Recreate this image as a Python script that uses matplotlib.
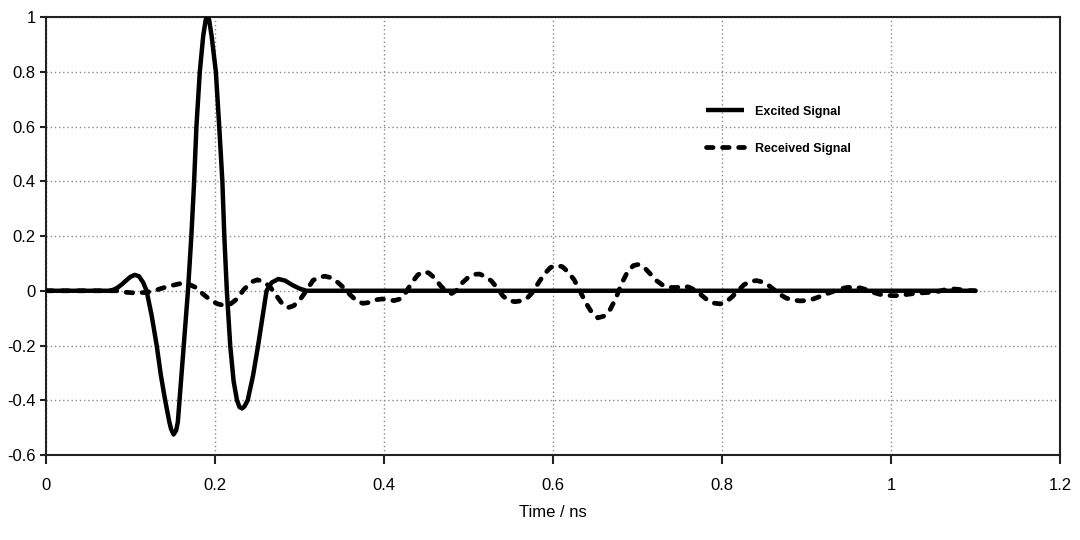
import matplotlib
matplotlib.use("Agg")
import matplotlib.pyplot as plt
from matplotlib.font_manager import findfont, FontProperties

plt.rcParams['axes.unicode_minus'] = False
plt.rcParams['font.family'] = ['Liberation Sans', 'DejaVu Sans']

# Excited signal (time in ns, amplitude)
excited_t = [0.000, 0.075, 0.080, 0.085, 0.090, 0.095, 0.100, 0.105, 0.110, 0.115,
             0.119, 0.125, 0.131, 0.136, 0.141, 0.146, 0.148, 0.151, 0.154, 0.156,
             0.158, 0.162, 0.165, 0.168, 0.172, 0.175, 0.178, 0.182, 0.186, 0.189,
             0.191, 0.193, 0.196, 0.201, 0.205, 0.2087, 0.211, 0.214, 0.218, 0.222,
             0.226, 0.229, 0.232, 0.235, 0.2387, 0.245, 0.251, 0.256, 0.261, 0.267,
             0.275, 0.283, 0.292, 0.300, 0.308, 1.100]
excited_v = [0.000, 0.000, 0.004, 0.012, 0.024, 0.038, 0.051, 0.058, 0.053, 0.030,
             0.000, -0.090, -0.200, -0.310, -0.400, -0.480, -0.505, -0.525, -0.510, -0.480,
             -0.400, -0.240, -0.120, 0.000, 0.200, 0.380, 0.600, 0.800, 0.930, 0.990,
             1.000, 0.990, 0.930, 0.800, 0.600, 0.400, 0.200, 0.000, -0.200, -0.330,
             -0.400, -0.425, -0.430, -0.422, -0.400, -0.310, -0.200, -0.100, 0.000, 0.030,
             0.043, 0.037, 0.020, 0.008, 0.000, 0.000]

# Received signal (time in ns, amplitude)
received_t = [0.000, 0.085, 0.092, 0.105, 0.118, 0.128, 0.138, 0.150, 0.160, 0.168,
              0.176, 0.185, 0.195, 0.203, 0.210, 0.218, 0.226, 0.234, 0.243, 0.250,
              0.257, 0.265, 0.272, 0.279, 0.286, 0.293, 0.300, 0.308, 0.316, 0.323,
              0.330, 0.337, 0.344, 0.352, 0.360, 0.368, 0.375, 0.382, 0.390, 0.398,
              0.405, 0.412, 0.419, 0.426, 0.433, 0.440, 0.447, 0.453, 0.460, 0.467,
              0.474, 0.480, 0.486, 0.493, 0.500, 0.507, 0.513, 0.520, 0.527, 0.534,
              0.541, 0.548, 0.555, 0.562, 0.569, 0.576, 0.583, 0.590, 0.597, 0.604,
              0.611, 0.618, 0.625, 0.632, 0.639, 0.646, 0.653, 0.660, 0.667, 0.674,
              0.681, 0.688, 0.695, 0.701, 0.708, 0.715, 0.722, 0.730, 0.738, 0.746,
              0.754, 0.760, 0.767, 0.774, 0.782, 0.790, 0.798, 0.805, 0.812, 0.819,
              0.826, 0.834, 0.841, 0.848, 0.855, 0.862, 0.869, 0.876, 0.884, 0.892,
              0.900, 0.908, 0.916, 0.924, 0.932, 0.940, 0.948, 0.956, 0.964, 0.972,
              0.980, 0.988, 0.996, 1.005, 1.015, 1.025, 1.035, 1.045, 1.055, 1.063,
              1.072, 1.080, 1.090, 1.100]
received_v = [0.000, 0.000, -0.005, -0.008, -0.006, 0.000, 0.010, 0.020, 0.027, 0.025,
              0.014, -0.010, -0.035, -0.048, -0.053, -0.049, -0.030, 0.004, 0.032, 0.040,
              0.034, 0.015, -0.015, -0.045, -0.062, -0.055, -0.035, 0.000, 0.038, 0.050,
              0.053, 0.048, 0.034, 0.012, -0.015, -0.038, -0.046, -0.043, -0.033, -0.030,
              -0.033, -0.036, -0.030, -0.005, 0.030, 0.058, 0.070, 0.065, 0.046, 0.018,
              -0.004, -0.010, 0.002, 0.030, 0.050, 0.060, 0.061, 0.052, 0.036, 0.010,
              -0.020, -0.036, -0.040, -0.037, -0.028, -0.005, 0.030, 0.062, 0.085, 0.093,
              0.088, 0.068, 0.040, -0.002, -0.045, -0.080, -0.099, -0.093, -0.072, -0.030,
              0.025, 0.068, 0.092, 0.096, 0.085, 0.062, 0.038, 0.020, 0.012, 0.012,
              0.016, 0.014, 0.004, -0.012, -0.032, -0.045, -0.048, -0.040, -0.022, 0.000,
              0.022, 0.035, 0.037, 0.032, 0.020, 0.003, -0.014, -0.027, -0.034, -0.037,
              -0.036, -0.030, -0.021, -0.011, -0.002, 0.007, 0.012, 0.013, 0.010, 0.003,
              -0.007, -0.014, -0.017, -0.018, -0.015, -0.011, -0.008, -0.006, -0.003, 0.003,
              0.007, 0.005, 0.001, 0.000]

x_ticks = [0, 0.2, 0.4, 0.6, 0.8, 1.0, 1.2]
x_tick_labels = ['0', '0.2', '0.4', '0.6', '0.8', '1', '1.2']
y_ticks = [-0.6, -0.4, -0.2, 0, 0.2, 0.4, 0.6, 0.8, 1.0]
y_tick_labels = ['-0.6', '-0.4', '-0.2', '0', '0.2', '0.4', '0.6', '0.8', '1']

fig = plt.figure(figsize=(10.8, 5.4), dpi=100)
ax = fig.add_axes([0.0426, 0.1574, 0.9389, 0.8111])

ax.plot(received_t, received_v, color='black', lw=3.4, dashes=(1.4, 2.0),
        dash_capstyle='round', label='Received Signal', zorder=2)
ax.plot(excited_t, excited_v, color='black', lw=3.2, solid_capstyle='butt',
        label='Excited Signal', zorder=3)

ax.set_xlim(0, 1.2)
ax.set_ylim(-0.6, 1.0)
ax.set_xticks(x_ticks)
ax.set_xticklabels(x_tick_labels)
ax.set_yticks(y_ticks)
ax.set_yticklabels(y_tick_labels)
ax.tick_params(axis='both', labelsize=12, direction='out', width=1.5, color='#222222')
ax.tick_params(axis='x', length=6.5, pad=10)
ax.tick_params(axis='y', length=4.5, pad=3)
ax.grid(True, color='#8a8a8a', linestyle=(0, (1, 2)), linewidth=1.0, zorder=0)
ax.set_axisbelow(True)
for s in ax.spines.values():
    s.set_linewidth(1.5)
    s.set_color('#222222')

ax.set_xlabel('Time / ns', fontsize=12, labelpad=9)

narrow = 'Liberation Sans Narrow'
try:
    findfont(FontProperties(family=narrow), fallback_to_default=False)
    leg_font = {'family': narrow, 'weight': 'bold', 'size': 11.5}
except Exception:
    leg_font = {'family': 'Liberation Sans', 'weight': 'bold', 'size': 9}

handles, labels = ax.get_legend_handles_labels()
leg = ax.legend(handles[::-1], labels[::-1], loc='center left',
                bbox_to_anchor=(0.651, 0.742), frameon=False, prop=leg_font,
                handlelength=3.0, handletextpad=0.9, labelspacing=2.0,
                borderpad=0, borderaxespad=0)

fig.savefig('out.png', dpi=100)
